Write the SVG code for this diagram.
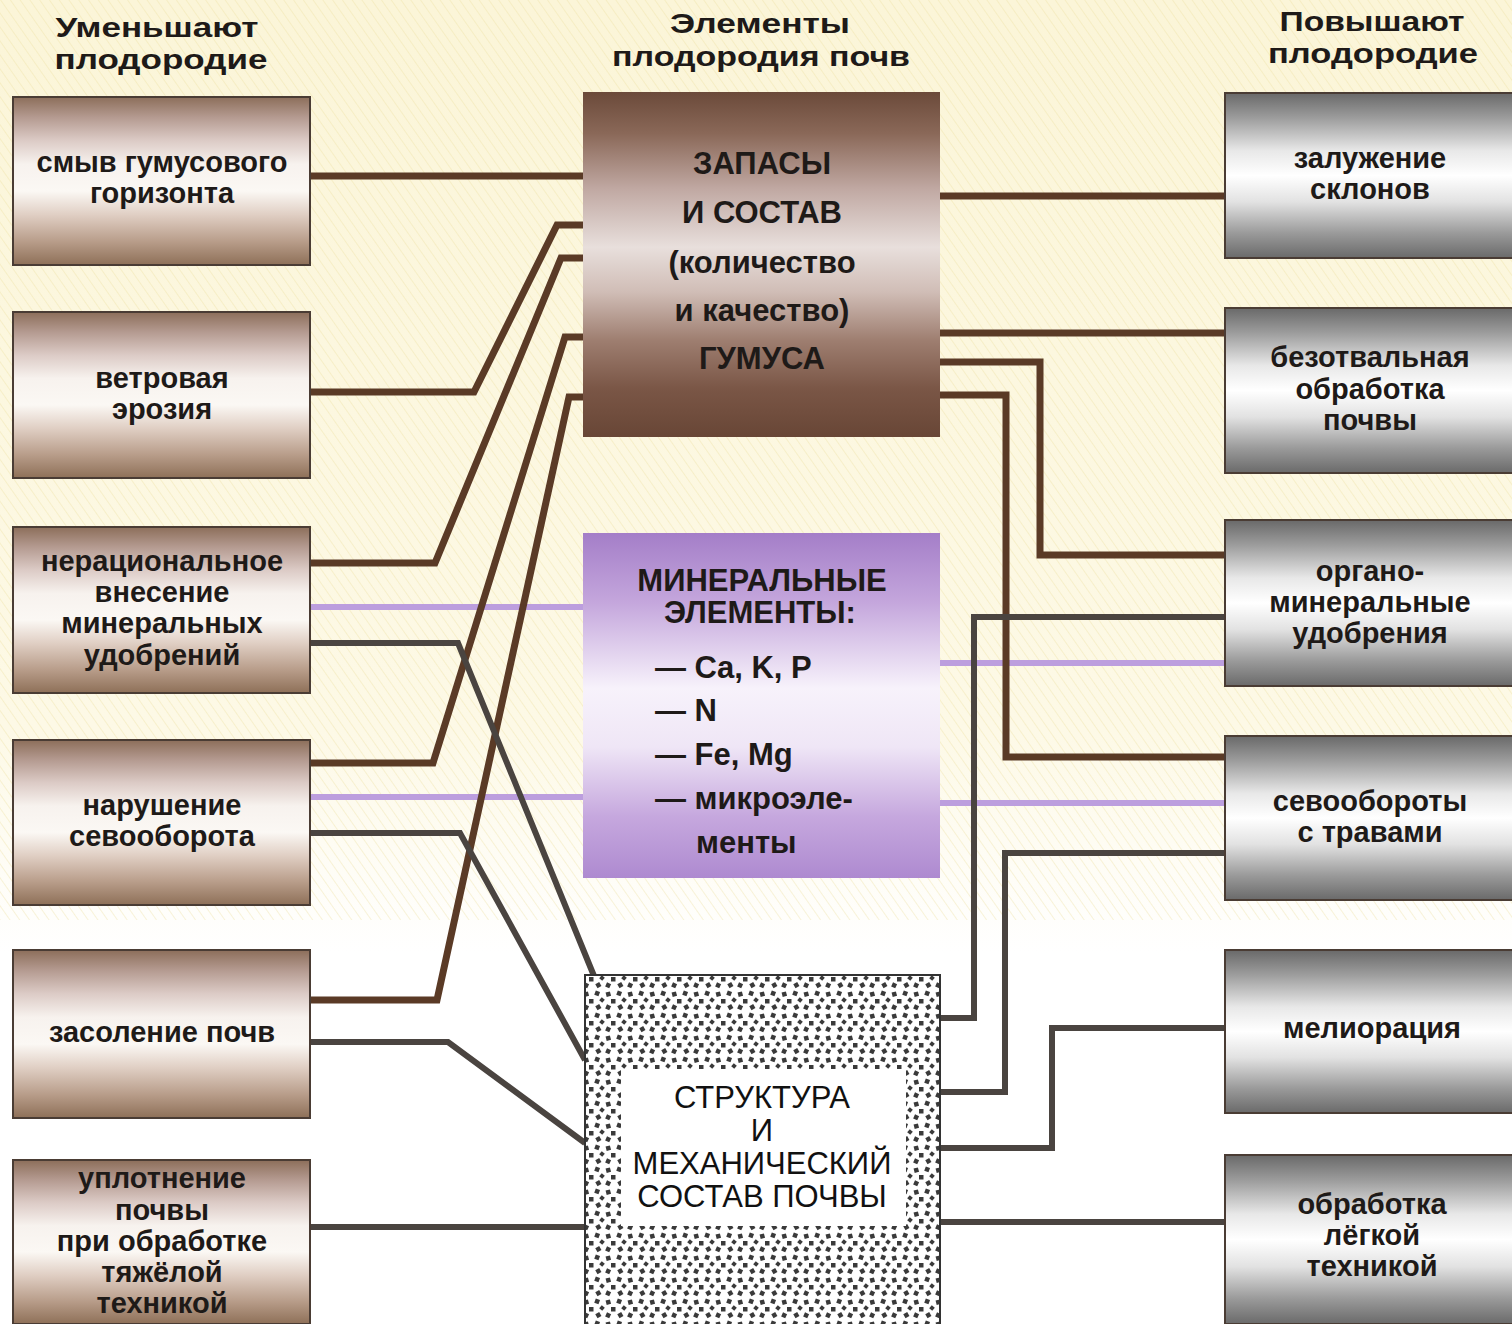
<svg xmlns="http://www.w3.org/2000/svg" width="1512" height="1324" viewBox="0 0 1512 1324">
<defs>
<linearGradient id="bg" x1="0" y1="0" x2="0" y2="1">
<stop offset="0" stop-color="#fbf5d8"/><stop offset="0.55" stop-color="#fdf9e6"/><stop offset="0.72" stop-color="#ffffff"/><stop offset="1" stop-color="#ffffff"/>
</linearGradient>
<pattern id="hatch" width="8" height="8" patternUnits="userSpaceOnUse" patternTransform="rotate(-35)">
<line x1="0" y1="0" x2="0" y2="8" stroke="#ece0a0" stroke-width="1.5" opacity="0.5"/>
</pattern>
<linearGradient id="gL" x1="0" y1="0" x2="0" y2="1">
<stop offset="0" stop-color="#8c6e5a"/><stop offset="0.12" stop-color="#b49a90"/><stop offset="0.26" stop-color="#dccbc6"/><stop offset="0.4" stop-color="#f7f2ee"/><stop offset="0.56" stop-color="#fbf8f4"/><stop offset="0.7" stop-color="#e0cfc4"/><stop offset="0.86" stop-color="#b89d8a"/><stop offset="1" stop-color="#8e7058"/>
</linearGradient>
<linearGradient id="gR" x1="0" y1="0" x2="0" y2="1">
<stop offset="0" stop-color="#696969"/><stop offset="0.15" stop-color="#9c9c9c"/><stop offset="0.35" stop-color="#e8e8e8"/><stop offset="0.5" stop-color="#ffffff"/><stop offset="0.66" stop-color="#e2e2e2"/><stop offset="0.85" stop-color="#9a9a9a"/><stop offset="1" stop-color="#6a6a6a"/>
</linearGradient>
<linearGradient id="gH" x1="0" y1="0" x2="0" y2="1">
<stop offset="0" stop-color="#6b4a3a"/><stop offset="0.12" stop-color="#8a6858"/><stop offset="0.28" stop-color="#c0a8a2"/><stop offset="0.45" stop-color="#e8dfdc"/><stop offset="0.58" stop-color="#d0bdb6"/><stop offset="0.72" stop-color="#9e7e70"/><stop offset="0.86" stop-color="#7a5646"/><stop offset="1" stop-color="#684636"/>
</linearGradient>
<linearGradient id="gM" x1="0" y1="0" x2="0" y2="1">
<stop offset="0" stop-color="#a47ec8"/><stop offset="0.2" stop-color="#c4a6dc"/><stop offset="0.45" stop-color="#f7f2fb"/><stop offset="0.62" stop-color="#efe6f6"/><stop offset="0.82" stop-color="#c6a8de"/><stop offset="1" stop-color="#ae8ad0"/>
</linearGradient>
<pattern id="dots" width="22" height="22" patternUnits="userSpaceOnUse">
<rect width="22" height="22" fill="#ffffff"/>
<g fill="#3a3a3a">
<rect x="1" y="1" width="4.5" height="4.5" transform="rotate(20 3 3)"/>
<rect x="12" y="2" width="4.5" height="4.5" transform="rotate(-15 14 4)"/>
<rect x="6" y="8" width="4" height="4" transform="rotate(40 8 10)"/>
<rect x="17" y="9" width="4.5" height="4.5"/>
<rect x="2" y="15" width="4.5" height="4.5" transform="rotate(-30 4 17)"/>
<rect x="12" y="15" width="4.5" height="4.5" transform="rotate(25 14 17)"/>
</g>
</pattern>
<style>
.t{font-family:"Liberation Sans",Arial,sans-serif;font-weight:bold;fill:#1e1a18;text-anchor:middle}
.h{font-size:28px}
.b{font-size:29px}
.c{font-size:31px}
.s{font-family:"Liberation Sans",Arial,sans-serif;font-weight:normal;fill:#111;text-anchor:middle;font-size:31px}
.box{stroke:#4a3c34;stroke-width:2}
.brn{fill:none;stroke:#5a3a26;stroke-width:7;stroke-linejoin:miter}
.drk{fill:none;stroke:#4a4440;stroke-width:6;stroke-linejoin:miter}
.pur{fill:none;stroke:#bc9ede;stroke-width:6}
</style>
</defs>
<rect width="1512" height="1324" fill="url(#bg)"/>
<rect width="1512" height="920" fill="url(#hatch)"/>

<g id="headers">
<text class="t h" x="157" y="37" textLength="203" lengthAdjust="spacingAndGlyphs">Уменьшают</text>
<text class="t h" x="161" y="69" textLength="213" lengthAdjust="spacingAndGlyphs">плодородие</text>
<text class="t h" x="760" y="33" textLength="180" lengthAdjust="spacingAndGlyphs">Элементы</text>
<text class="t h" x="761" y="66" textLength="298" lengthAdjust="spacingAndGlyphs">плодородия почв</text>
<text class="t h" x="1372" y="31" textLength="185" lengthAdjust="spacingAndGlyphs">Повышают</text>
<text class="t h" x="1373" y="63" textLength="210" lengthAdjust="spacingAndGlyphs">плодородие</text>
</g>

<g id="connectors">
<path class="pur" d="M310,607 H583"/>
<path class="pur" d="M310,797 H583"/>
<path class="pur" d="M940,663 H1225"/>
<path class="pur" d="M940,803 H1225"/>
<path class="brn" d="M310,176 H583"/>
<path class="brn" d="M310,392 H474 L557,225 H583"/>
<path class="brn" d="M310,563 H435 L561,258 H583"/>
<path class="brn" d="M310,763 H433 L565,337 H583"/>
<path class="brn" d="M310,1000 H437 L569,397 H583"/>
<path class="drk" d="M310,643 H458 L594,976"/>
<path class="drk" d="M310,833 H460 L585,1060"/>
<path class="drk" d="M310,1042 H448 L585,1143"/>
<path class="drk" d="M310,1227 H585"/>
<path class="brn" d="M940,196 H1225"/>
<path class="brn" d="M940,333 H1225"/>
<path class="brn" d="M940,362 H1040 V555 H1225"/>
<path class="brn" d="M940,395 H1006 V757 H1225"/>
<path class="drk" d="M1225,617 H974 V1018 H940"/>
<path class="drk" d="M1225,853 H1005 V1092 H940"/>
<path class="drk" d="M1225,1028 H1052 V1148 H940"/>
<path class="drk" d="M940,1222 H1225"/>
</g>

<g id="L1"><rect class="box" x="13" y="97" width="297" height="168" fill="url(#gL)"/>
<text class="t b" x="162" y="172">смыв гумусового</text><text class="t b" x="162" y="203">горизонта</text></g>
<g id="L2"><rect class="box" x="13" y="312" width="297" height="166" fill="url(#gL)"/>
<text class="t b" x="162" y="388">ветровая</text><text class="t b" x="162" y="419">эрозия</text></g>
<g id="L3"><rect class="box" x="13" y="527" width="297" height="166" fill="url(#gL)"/>
<text class="t b" x="162" y="571">нерациональное</text><text class="t b" x="162" y="602">внесение</text><text class="t b" x="162" y="633">минеральных</text><text class="t b" x="162" y="665">удобрений</text></g>
<g id="L4"><rect class="box" x="13" y="740" width="297" height="165" fill="url(#gL)"/>
<text class="t b" x="162" y="815">нарушение</text><text class="t b" x="162" y="846">севооборота</text></g>
<g id="L5"><rect class="box" x="13" y="950" width="297" height="168" fill="url(#gL)"/>
<text class="t b" x="162" y="1042">засоление почв</text></g>
<g id="L6"><rect class="box" x="13" y="1160" width="297" height="164" fill="url(#gL)"/>
<text class="t b" x="162" y="1188">уплотнение</text><text class="t b" x="162" y="1220">почвы</text><text class="t b" x="162" y="1251">при обработке</text><text class="t b" x="162" y="1282">тяжёлой</text><text class="t b" x="162" y="1313">техникой</text></g>

<g id="R1"><rect class="box" x="1225" y="93" width="290" height="165" fill="url(#gR)"/>
<text class="t b" x="1370" y="168">залужение</text><text class="t b" x="1370" y="199">склонов</text></g>
<g id="R2"><rect class="box" x="1225" y="308" width="290" height="165" fill="url(#gR)"/>
<text class="t b" x="1370" y="367">безотвальная</text><text class="t b" x="1370" y="399">обработка</text><text class="t b" x="1370" y="430">почвы</text></g>
<g id="R3"><rect class="box" x="1225" y="520" width="290" height="166" fill="url(#gR)"/>
<text class="t b" x="1370" y="581">органо-</text><text class="t b" x="1370" y="612">минеральные</text><text class="t b" x="1370" y="643">удобрения</text></g>
<g id="R4"><rect class="box" x="1225" y="736" width="290" height="164" fill="url(#gR)"/>
<text class="t b" x="1370" y="811">севообороты</text><text class="t b" x="1370" y="842">с травами</text></g>
<g id="R5"><rect class="box" x="1225" y="950" width="290" height="163" fill="url(#gR)"/>
<text class="t b" x="1372" y="1038">мелиорация</text></g>
<g id="R6"><rect class="box" x="1225" y="1155" width="290" height="169" fill="url(#gR)"/>
<text class="t b" x="1372" y="1214">обработка</text><text class="t b" x="1372" y="1245">лёгкой</text><text class="t b" x="1372" y="1276">техникой</text></g>

<g id="humus"><rect x="583" y="92" width="357" height="345" fill="url(#gH)"/>
<text class="t c" x="762" y="174">ЗАПАСЫ</text><text class="t c" x="762" y="223">И СОСТАВ</text><text class="t c" x="762" y="273">(количество</text><text class="t c" x="762" y="321">и качество)</text><text class="t c" x="762" y="369">ГУМУСА</text></g>

<g id="mineral"><rect x="583" y="533" width="357" height="345" fill="url(#gM)"/>
<text class="t c" x="762" y="591">МИНЕРАЛЬНЫЕ</text><text class="t c" x="760" y="623">ЭЛЕМЕНТЫ:</text>
<text class="t c" x="655" y="678" style="text-anchor:start">— Ca, K, P</text>
<text class="t c" x="655" y="721" style="text-anchor:start">— N</text>
<text class="t c" x="655" y="765" style="text-anchor:start">— Fe, Mg</text>
<text class="t c" x="655" y="809" style="text-anchor:start">— микроэле-</text>
<text class="t c" x="696" y="853" style="text-anchor:start">менты</text></g>

<g id="structure"><rect x="585" y="975" width="355" height="352" fill="url(#dots)" stroke="#333" stroke-width="2"/>
<rect x="621" y="1069" width="285" height="157" fill="#ffffff"/>
<text class="s" x="762" y="1108">СТРУКТУРА</text><text class="s" x="762" y="1141">И</text><text class="s" x="762" y="1174">МЕХАНИЧЕСКИЙ</text><text class="s" x="762" y="1207">СОСТАВ ПОЧВЫ</text></g>
</svg>
